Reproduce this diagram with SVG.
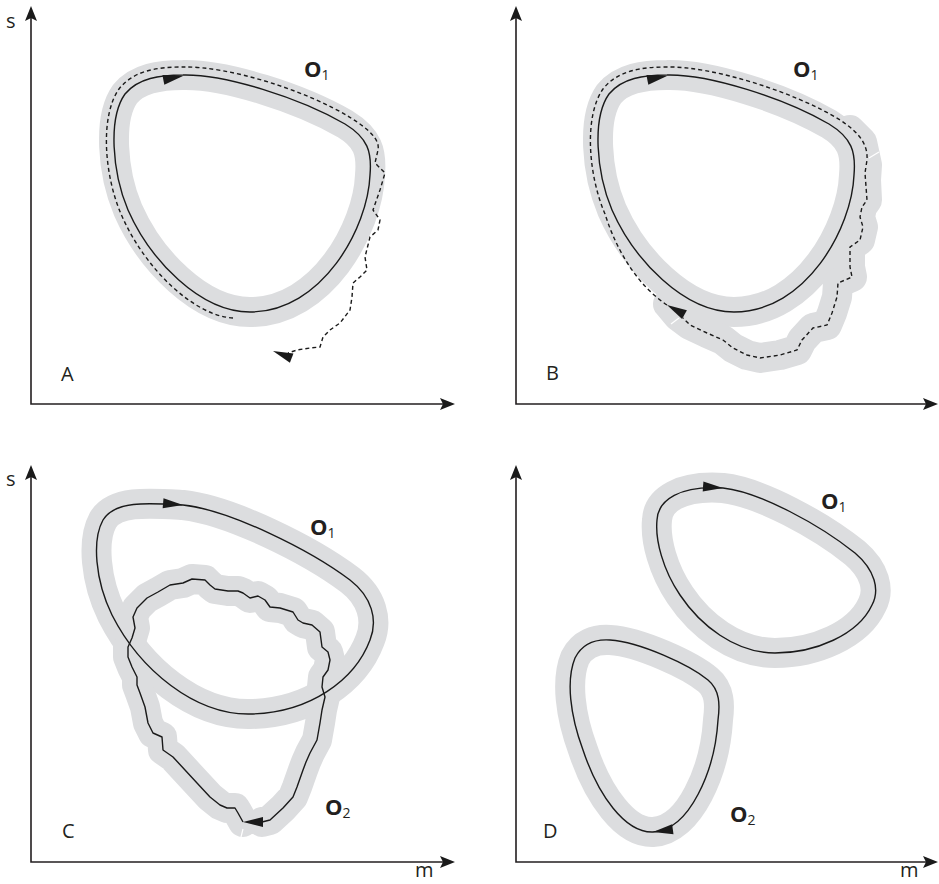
<svg xmlns="http://www.w3.org/2000/svg" width="939" height="884" viewBox="0 0 939 884">
<style>
 .band{fill:none;stroke:#dcdddf;stroke-width:30;stroke-linejoin:round;stroke-linecap:round}
 .orbit{fill:none;stroke:#1a1a1a;stroke-width:1.4;stroke-linejoin:round}
 .dash{fill:none;stroke:#1a1a1a;stroke-width:1.4;stroke-dasharray:4 3}
 .axis{fill:none;stroke:#231f20;stroke-width:1.6}
 .ah{fill:#1a1a1a}
 .seam{stroke:#fff;stroke-width:1.2}
 text{font-family:"Open Sans","Liberation Sans",sans-serif;fill:#231f20}
 .lbl{font-size:20px}
 .orb{font-size:22px;font-weight:bold}
 .sub{font-size:14px;font-weight:normal}
</style>
<defs>
 <path id="loopA" d="M183,75 C225,74 300,98 345,124 C368,138 372,152 370,175 C368,228 322,312 250,312 C200,312 150,260 128,210 C112,172 108,118 125,94 C138,78 160,75 183,75 Z"/>
 <path id="loopC1" d="M183,505 C230,510 310,550 350,580 C372,597 378,620 370,640 C355,680 310,713 250,714 C195,715 140,670 112,615 C95,580 92,540 103,520 C115,500 150,503 183,505 Z"/>
 <path id="loopC2" d="M243,822 L238,813 L235,808 L227,808 L220,805 L210,797 L197,783 L185,770 L173,757 L163,750 L162,737 L153,733 L148,723 L145,707 L140,693 L137,685 L137,677 L132,667 L128,657 L128,647 L132,638 L135,628 L133,617 L137,608 L147,598 L158,592 L170,585 L183,583 L192,579 L205,580 L210,585 L215,589 L228,591 L238,591 L243,593 L250,598 L258,596 L265,600 L270,607 L280,608 L293,612 L298,620 L303,623 L312,625 L320,632 L322,647 L328,652 L330,660 L328,670 L323,677 L322,687 L325,697 L322,710 L320,723 L317,740 L310,753 L306,762 L303,770 L297,787 L293,797 L283,808 L270,820 L262,822"/>
 <path id="loopD1" d="M723,488 C760,492 820,525 855,553 C875,570 880,590 872,605 C858,635 815,653 775,653 C735,653 700,625 680,595 C663,570 655,540 657,520 C658,500 680,485 723,488 Z"/>
 <path id="loopD2" d="M610,640 C640,642 690,665 708,680 C720,690 720,705 718,720 C715,770 690,830 653,832 C625,833 598,795 583,750 C570,715 566,680 575,658 C582,644 595,639 610,640 Z"/>
 <path id="ah" d="M0,0 L-20,-5 L-20,5 Z"/>
 <path id="axh" d="M0,0 L-15,-6 L-12,0 L-15,6 Z"/>
</defs>

<g id="axes">
 <path class="axis" d="M31,12 V404 H449"/>
 <path class="axis" d="M516,12 V404 H932"/>
 <path class="axis" d="M31,471 V862 H449"/>
 <path class="axis" d="M516,471 V862 H932"/>
 <use href="#axh" class="ah" transform="translate(31,6) rotate(-90)"/>
 <use href="#axh" class="ah" transform="translate(455,404)"/>
 <use href="#axh" class="ah" transform="translate(516,6) rotate(-90)"/>
 <use href="#axh" class="ah" transform="translate(938,404)"/>
 <use href="#axh" class="ah" transform="translate(31,465) rotate(-90)"/>
 <use href="#axh" class="ah" transform="translate(455,862)"/>
 <use href="#axh" class="ah" transform="translate(516,465) rotate(-90)"/>
 <use href="#axh" class="ah" transform="translate(938,862)"/>
 <text class="lbl" x="6" y="28">s</text>
 <text class="lbl" x="6" y="486">s</text>
 <text class="lbl" x="415" y="877">m</text>
 <text class="lbl" x="900" y="877">m</text>
</g>

<g id="panel-A">
 <use href="#loopA" class="band"/>
 <use href="#loopA" class="orbit"/>
 <path class="dash" d="M233,318 C195,316 145,270 121,214 C104,174 100,116 119,89 C134,70 158,67 183,67 C228,66 306,90 351,118 C370,130 380,140 378,150 L375,163 L385,173 L380,190 L373,210 L380,220 L378,230 L370,237 L365,257 L367,270 L360,277 L353,283 L352,297 L350,310 L340,323 L330,330 L323,337 L320,347 L310,348 L297,350 L288,353"/>
 <use href="#ah" class="ah" transform="translate(183,76) rotate(-11)"/>
 <use href="#ah" class="ah" transform="translate(273,351) rotate(-159)"/>
 <text class="orb" x="304" y="77">O<tspan class="sub" dy="3">1</tspan></text>
 <text class="lbl" x="61" y="381">A</text>
</g>

<g id="panel-B">
 <use href="#loopA" class="band" transform="translate(484,0)"/>
 <path class="band" d="M850,130 L862,142 L867,165 L866,180 L867,200 L862,207 L860,217 L863,227 L860,240 L850,247 L850,267 L852,277 L838,283 L837,297 L832,313 L827,325 L813,328 L802,340 L797,350 L780,355 L760,358 L747,355 L733,348 L723,340 L707,333 L690,325 L678,316 L668,304"/>
 <line class="seam" x1="869" y1="158" x2="879" y2="152"/>
 <line class="seam" x1="671" y1="324" x2="679" y2="318"/>
 <use href="#loopA" class="orbit" transform="translate(484,0)"/>
 <path class="dash" d="M667,305 C640,287 618,255 605,214 C588,174 584,116 603,89 C618,70 642,67 667,67 C712,66 795,92 840,120 C860,133 868,145 867,160 L865,173 L867,200 L862,207 L860,217 L863,227 L860,240 L850,247 L850,267 L852,277 L838,283 L837,297 L832,313 L827,325 L813,328 L802,340 L797,350 L780,355 L760,358 L747,355 L733,348 L723,340 L707,333 L690,325 L683,318"/>
 <use href="#ah" class="ah" transform="translate(667,76) rotate(-11)"/>
 <use href="#ah" class="ah" transform="translate(667,305) rotate(-151)"/>
 <text class="orb" x="793" y="77">O<tspan class="sub" dy="3">1</tspan></text>
 <text class="lbl" x="546" y="380">B</text>
</g>

<g id="panel-C">
 <use href="#loopC1" class="band"/>
 <use href="#loopC2" class="band"/>
 <line class="seam" x1="243" y1="829" x2="240" y2="841"/>
 <use href="#loopC1" class="orbit"/>
 <use href="#loopC2" class="orbit"/>
 <use href="#ah" class="ah" transform="translate(183,505) rotate(5)"/>
 <use href="#ah" class="ah" transform="translate(243,822) rotate(180)"/>
 <text class="orb" x="310" y="535">O<tspan class="sub" dy="3">1</tspan></text>
 <text class="orb" x="325" y="815">O<tspan class="sub" dy="3">2</tspan></text>
 <text class="lbl" x="62" y="838">C</text>
</g>

<g id="panel-D">
 <use href="#loopD1" class="band"/>
 <use href="#loopD2" class="band"/>
 <use href="#loopD1" class="orbit"/>
 <use href="#loopD2" class="orbit"/>
 <use href="#ah" class="ah" transform="translate(723,488) rotate(4)"/>
 <use href="#ah" class="ah" transform="translate(653,832) rotate(172)"/>
 <text class="orb" x="821" y="509">O<tspan class="sub" dy="3">1</tspan></text>
 <text class="orb" x="730" y="822">O<tspan class="sub" dy="3">2</tspan></text>
 <text class="lbl" x="543" y="838">D</text>
</g>
</svg>
